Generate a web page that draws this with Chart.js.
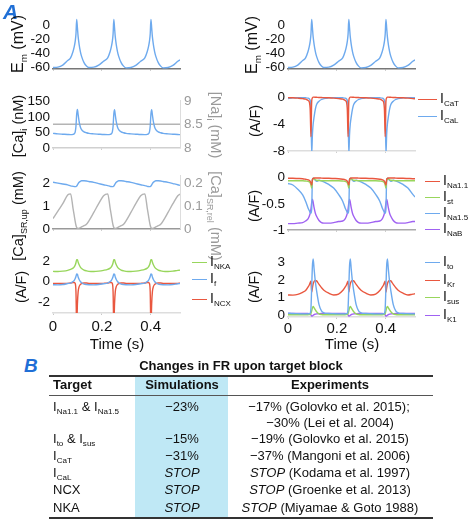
<!DOCTYPE html>
<html>
<head>
<meta charset="utf-8">
<script src="https://cdn.jsdelivr.net/npm/chart.js@4.4.1/dist/chart.umd.min.js"></script>
<style>
  body { margin: 0; background: #fff; }
  #fig { position: relative; width: 474px; height: 524px; overflow: hidden; font-family: Arial, "Liberation Sans", sans-serif; color: #111; }
  #fig canvas { position: absolute; }
  .t { position: absolute; white-space: nowrap; font-size: 13px; line-height: 16px; }
  .c { transform: translateX(-50%); }
  .yl { position: absolute; white-space: nowrap; font-size: 14.5px; line-height: 16px; transform: translate(-50%, -50%) rotate(-90deg); }
  .yr { position: absolute; white-space: nowrap; font-size: 14.5px; line-height: 16px; color: #9a9a9a; transform: translate(-50%, -50%) rotate(90deg); }
  .em { font-size: 16px; }
  .s { font-size: 0.62em; vertical-align: -0.35em; }
  .lg { position: absolute; height: 0; border-top: 1.5px solid; }
  .lt { position: absolute; font-size: 14px; line-height: 16px; transform: translateY(-45%); white-space: nowrap; }
  .lt .s { font-size: 8px; }
  .rule { position: absolute; left: 49px; width: 384px; background: #333; }
</style>
</head>
<body>
<div id="fig"></div>
<script>
// time points (s), denser around each beat
const time = [0, 0.02, 0.04, 0.06,
  0.072, 0.082, 0.087, 0.091, 0.094, 0.097, 0.100, 0.103, 0.107, 0.112, 0.117, 0.127, 0.137, 0.147, 0.167, 0.187, 0.207,
  0.224, 0.234, 0.239, 0.243, 0.246, 0.249, 0.252, 0.255, 0.259, 0.264, 0.269, 0.279, 0.289, 0.299, 0.319, 0.339, 0.359,
  0.376, 0.386, 0.391, 0.395, 0.398, 0.401, 0.404, 0.407, 0.411, 0.416, 0.421, 0.431, 0.441, 0.451, 0.471, 0.491, 0.511,
  0.52];

const em = [-61, -60.5, -57.5, -51,
  -47, -38, -31, -23, -13, 8, -4, -17, -28, -38, -45, -54, -59, -61, -60.5, -57.5, -52,
  -47, -38, -31, -23, -13, 8, -4, -17, -28, -38, -45, -54, -59, -61.5, -61, -58, -52,
  -47, -38, -31, -23, -13, 8, -4, -17, -28, -38, -45, -54, -59, -61.5, -61, -58, -52,
  -50];

const caI = [47, 45.5, 44.5, 43.5,
  43, 44, 46, 52, 70, 110, 125, 108, 85, 68, 59, 52, 49, 47, 45.5, 44.5, 43.5,
  43, 44, 46, 52, 70, 110, 124, 107, 85, 68, 59, 52, 49, 47, 45.5, 44.5, 43.5,
  43, 44, 46, 52, 70, 110, 124, 107, 85, 68, 59, 52, 49, 47, 45.5, 44.5, 43.5,
  43];

const naTime = [0, 0.52];
const naI = [8.51, 8.51];

const caSRup = [2.04, 2.0, 1.96, 1.92,
  1.88, 1.86, 1.85, 1.845, 1.85, 1.87, 1.92, 1.98, 2.04, 2.08, 2.1, 2.1, 2.09, 2.07, 2.03, 1.98, 1.93,
  1.89, 1.86, 1.85, 1.845, 1.85, 1.87, 1.92, 1.98, 2.04, 2.08, 2.1, 2.1, 2.09, 2.07, 2.03, 1.98, 1.93,
  1.89, 1.86, 1.85, 1.845, 1.85, 1.87, 1.92, 1.98, 2.04, 2.08, 2.1, 2.1, 2.09, 2.07, 2.03, 1.98, 1.93,
  1.9];

const caSRrel = [0.045, 0.078, 0.11, 0.148,
  0.153, 0.09, 0.058, 0.032, 0.016, 0.006, 0.003, 0.002, 0.003, 0.006, 0.009, 0.014, 0.02, 0.035, 0.072, 0.11, 0.145,
  0.153, 0.09, 0.058, 0.032, 0.016, 0.006, 0.003, 0.002, 0.003, 0.006, 0.009, 0.014, 0.02, 0.035, 0.072, 0.11, 0.145,
  0.153, 0.09, 0.058, 0.032, 0.016, 0.006, 0.003, 0.002, 0.003, 0.006, 0.009, 0.014, 0.02, 0.035, 0.072, 0.11, 0.145,
  0.152];

const iNKA = [1.0, 0.98, 1.02, 1.1,
  1.2, 1.32, 1.45, 1.62, 1.85, 2.15, 2.15, 1.9, 1.65, 1.42, 1.28, 1.13, 1.05, 1.0, 0.98, 1.02, 1.1,
  1.2, 1.32, 1.45, 1.62, 1.85, 2.15, 2.15, 1.9, 1.65, 1.42, 1.28, 1.13, 1.05, 1.0, 0.98, 1.02, 1.1,
  1.2, 1.32, 1.45, 1.62, 1.85, 2.15, 2.15, 1.9, 1.65, 1.42, 1.28, 1.13, 1.05, 1.0, 0.98, 1.02, 1.1,
  1.12];

const iF = [-0.32, -0.33, -0.3, -0.2,
  -0.15, 0.0, 0.12, 0.3, 0.5, 0.75, 0.7, 0.45, 0.2, 0.0, -0.12, -0.25, -0.3, -0.32, -0.33, -0.3, -0.22,
  -0.15, 0.0, 0.12, 0.3, 0.5, 0.75, 0.7, 0.45, 0.2, 0.0, -0.12, -0.25, -0.3, -0.32, -0.33, -0.3, -0.22,
  -0.15, 0.0, 0.12, 0.3, 0.5, 0.75, 0.7, 0.45, 0.2, 0.0, -0.12, -0.25, -0.3, -0.32, -0.33, -0.3, -0.22,
  -0.2];

const iNCX = [-0.18, -0.2, -0.2, -0.18,
  -0.15, -0.1, -0.1, -0.2, -1.0, -4.5, -2.2, -1.0, -0.5, -0.3, -0.2, -0.15, -0.15, -0.18, -0.2, -0.2, -0.18,
  -0.15, -0.1, -0.1, -0.2, -1.0, -4.5, -2.2, -1.0, -0.5, -0.3, -0.2, -0.15, -0.15, -0.18, -0.2, -0.2, -0.18,
  -0.15, -0.1, -0.1, -0.2, -1.0, -4.5, -2.2, -1.0, -0.5, -0.3, -0.2, -0.15, -0.15, -0.18, -0.2, -0.2, -0.18,
  -0.17];

const iCaT = [-0.08, -0.1, -0.15, -0.22,
  -0.3, -0.5, -0.7, -2.0, -5.9, -0.6, -0.1, 0.0, 0.0, -0.02, -0.03, -0.05, -0.06, -0.08, -0.1, -0.15, -0.22,
  -0.3, -0.5, -0.7, -2.0, -5.9, -0.6, -0.1, 0.0, 0.0, -0.02, -0.03, -0.05, -0.06, -0.08, -0.1, -0.15, -0.22,
  -0.3, -0.5, -0.7, -2.0, -5.9, -0.6, -0.1, 0.0, 0.0, -0.02, -0.03, -0.05, -0.06, -0.08, -0.1, -0.15, -0.22,
  -0.25];

const iCaL = [-0.2, -0.12, -0.08, -0.08,
  -0.1, -0.15, -0.25, -0.5, -1.5, -8.5, -5.5, -4.0, -2.9, -1.8, -1.1, -0.6, -0.35, -0.22, -0.12, -0.08, -0.08,
  -0.1, -0.15, -0.25, -0.5, -1.5, -8.5, -5.5, -4.0, -2.9, -1.8, -1.1, -0.6, -0.35, -0.22, -0.12, -0.08, -0.08,
  -0.1, -0.15, -0.25, -0.5, -1.5, -8.5, -5.5, -4.0, -2.9, -1.8, -1.1, -0.6, -0.35, -0.22, -0.12, -0.08, -0.08,
  -0.09];

const iNa11 = [-0.01, -0.012, -0.016, -0.02,
  -0.03, -0.04, -0.05, -0.07, -0.1, -0.14, -0.04, -0.015, -0.005, -0.005, -0.005, -0.005, -0.008, -0.01, -0.012, -0.016, -0.02,
  -0.03, -0.04, -0.05, -0.07, -0.1, -0.14, -0.04, -0.015, -0.005, -0.005, -0.005, -0.005, -0.008, -0.01, -0.012, -0.016, -0.02,
  -0.03, -0.04, -0.05, -0.07, -0.1, -0.14, -0.04, -0.015, -0.005, -0.005, -0.005, -0.005, -0.008, -0.01, -0.012, -0.016, -0.02,
  -0.022];

const iSt = [-0.06, -0.06, -0.06, -0.06,
  -0.065, -0.07, -0.08, -0.1, -0.14, -0.2, -0.05, -0.01, -0.02, -0.04, -0.05, -0.055, -0.06, -0.06, -0.06, -0.06, -0.06,
  -0.065, -0.07, -0.08, -0.1, -0.14, -0.2, -0.05, -0.01, -0.02, -0.04, -0.05, -0.055, -0.06, -0.06, -0.06, -0.06, -0.06,
  -0.065, -0.07, -0.08, -0.1, -0.14, -0.2, -0.05, -0.01, -0.02, -0.04, -0.05, -0.055, -0.06, -0.06, -0.06, -0.06, -0.06,
  -0.06];

const iNa15 = [-0.11, -0.14, -0.22, -0.33,
  -0.45, -0.58, -0.63, -0.67, -0.68, -0.6, -0.03, -0.01, -0.02, -0.05, -0.07, -0.05, -0.06, -0.08, -0.13, -0.2, -0.32,
  -0.45, -0.58, -0.63, -0.67, -0.68, -0.6, -0.03, -0.01, -0.02, -0.05, -0.07, -0.05, -0.06, -0.08, -0.13, -0.2, -0.32,
  -0.45, -0.58, -0.63, -0.67, -0.68, -0.6, -0.03, -0.01, -0.02, -0.05, -0.07, -0.05, -0.06, -0.08, -0.13, -0.2, -0.32,
  -0.37];

const iNaB = [-0.88, -0.88, -0.87, -0.86,
  -0.83, -0.79, -0.74, -0.68, -0.6, -0.48, -0.41, -0.47, -0.58, -0.68, -0.74, -0.82, -0.86, -0.87, -0.87, -0.86, -0.84,
  -0.83, -0.79, -0.74, -0.68, -0.6, -0.48, -0.41, -0.47, -0.58, -0.68, -0.74, -0.82, -0.86, -0.87, -0.87, -0.86, -0.84,
  -0.83, -0.79, -0.74, -0.68, -0.6, -0.48, -0.41, -0.47, -0.58, -0.68, -0.74, -0.82, -0.86, -0.87, -0.87, -0.86, -0.84,
  -0.84];

const iTo = [0.12, 0.1, 0.09, 0.08,
  0.08, 0.08, 0.09, 0.12, 0.4, 1.6, 2.8, 3.2, 2.6, 1.9, 1.4, 0.6, 0.25, 0.14, 0.1, 0.09, 0.08,
  0.08, 0.08, 0.09, 0.12, 0.4, 1.6, 2.8, 3.2, 2.6, 1.9, 1.4, 0.6, 0.25, 0.14, 0.1, 0.09, 0.08,
  0.08, 0.08, 0.09, 0.12, 0.4, 1.6, 2.8, 3.2, 2.6, 1.9, 1.4, 0.6, 0.25, 0.14, 0.1, 0.09, 0.08,
  0.08];

const iKr = [1.15, 1.14, 1.18, 1.3,
  1.4, 1.6, 1.72, 1.85, 1.93, 1.3, 1.55, 1.78, 1.92, 1.98, 1.95, 1.75, 1.57, 1.42, 1.25, 1.15, 1.2,
  1.4, 1.6, 1.72, 1.85, 1.93, 1.3, 1.55, 1.78, 1.92, 1.98, 1.95, 1.75, 1.57, 1.42, 1.25, 1.15, 1.2,
  1.4, 1.6, 1.72, 1.85, 1.93, 1.3, 1.55, 1.78, 1.92, 1.98, 1.95, 1.75, 1.57, 1.42, 1.25, 1.15, 1.2,
  1.22];

const iSus = [0.03, 0.03, 0.03, 0.03,
  0.03, 0.03, 0.04, 0.05, 0.1, 0.25, 0.42, 0.5, 0.42, 0.3, 0.2, 0.08, 0.04, 0.03, 0.03, 0.03, 0.03,
  0.03, 0.03, 0.04, 0.05, 0.1, 0.25, 0.42, 0.5, 0.42, 0.3, 0.2, 0.08, 0.04, 0.03, 0.03, 0.03, 0.03,
  0.03, 0.03, 0.04, 0.05, 0.1, 0.25, 0.42, 0.5, 0.42, 0.3, 0.2, 0.08, 0.04, 0.03, 0.03, 0.03, 0.03,
  0.03];

const iK1 = [0.1, 0.1, 0.1, 0.1,
  0.1, 0.1, 0.09, 0.08, 0.02, -0.05, -0.04, 0.0, 0.04, 0.06, 0.08, 0.09, 0.1, 0.1, 0.1, 0.1, 0.1,
  0.1, 0.1, 0.09, 0.08, 0.02, -0.05, -0.04, 0.0, 0.04, 0.06, 0.08, 0.09, 0.1, 0.1, 0.1, 0.1, 0.1,
  0.1, 0.1, 0.09, 0.08, 0.02, -0.05, -0.04, 0.0, 0.04, 0.06, 0.08, 0.09, 0.1, 0.1, 0.1, 0.1, 0.1,
  0.1];

// tick labels
const timeTicks = [0, 0.2, 0.4];
const emTicks = [0, -20, -40, -60];
const caTicks = [0, 50, 100, 150];
const naTicks = [8, 8.5, 9];
const srUpTicks = [0, 1, 2];
const srRelTicks = [0, 0.1, 0.2];
const leftCurTicks = [-2, 0, 2];
const caCurTicks = [-8, -4, 0];
const naCurTicks = [-1, -0.5, 0];
const kCurTicks = [0, 1, 2, 3];

const BLUE = '#6eaaee', RED = '#e9573f', GREEN = '#98d65c', PURPLE = '#a062f2', GRAY = '#b4b4b4';
const FONT = 'Arial, "Liberation Sans", sans-serif';
const T_MAX = 0.52;
const PW = 127;
const PAD_L = 50, PAD_T = 10;

const fig = document.getElementById('fig');

function pts(ys, xs) {
  return ys.map((y, i) => ({ x: (xs || time)[i], y: y }));
}

function line(ys, color, axis, xs) {
  return {
    data: pts(ys, xs),
    borderColor: color,
    borderWidth: 1.4,
    pointRadius: 0,
    fill: false,
    cubicInterpolationMode: 'monotone',
    yAxisID: axis || 'y'
  };
}

function fmt(v) {
  return String(Math.round(v * 100) / 100);
}

function panel(p) {
  const plotH = p.bottom - p.top;
  const padR = p.y2 ? 40 : 6;
  const padB = p.xLabels ? 30 : 6;
  const cv = document.createElement('canvas');
  cv.width = PAD_L + PW + padR;
  cv.height = PAD_T + plotH + padB;
  cv.style.left = (p.left - PAD_L) + 'px';
  cv.style.top = (p.top - PAD_T) + 'px';
  fig.appendChild(cv);

  const scales = {
    x: {
      type: 'linear', min: 0, max: T_MAX,
      afterBuildTicks: s => { s.ticks = timeTicks.map(v => ({ value: v })); },
      afterFit: s => { s.height = padB; },
      border: { display: true, color: p.axisColor, width: 1.5 },
      grid: { display: true, drawOnChartArea: false, tickLength: 2, color: '#c8c8c8' },
      ticks: { display: !!p.xLabels, autoSkip: false, font: { size: 15, family: FONT }, color: '#111', padding: p.xPad || 3, maxRotation: 0, callback: v => fmt(v) }
    },
    y: {
      position: 'left', min: p.y.min, max: p.y.max,
      afterBuildTicks: s => { s.ticks = p.y.ticks.map(v => ({ value: v })); },
      afterFit: s => { s.width = PAD_L; },
      border: { display: false },
      grid: { display: false, drawTicks: false },
      ticks: { autoSkip: false, font: { size: 13.5, family: FONT }, color: '#111', padding: 3, callback: v => fmt(v) }
    }
  };
  if (p.y2) {
    scales.y2 = {
      position: 'right', min: p.y2.min, max: p.y2.max,
      afterBuildTicks: s => { s.ticks = p.y2.ticks.map(v => ({ value: v })); },
      afterFit: s => { s.width = padR; },
      border: { display: true, color: '#dddddd', width: 1 },
      grid: { display: false, drawTicks: false },
      ticks: { autoSkip: false, font: { size: 13.5, family: FONT }, color: '#9a9a9a', padding: 4, callback: v => fmt(v) }
    };
  }

  return new Chart(cv.getContext('2d'), {
    type: 'line',
    data: { datasets: p.datasets },
    options: {
      responsive: false,
      animation: false,
      events: [],
      layout: { padding: { left: 0, top: PAD_T, right: p.y2 ? 0 : padR, bottom: 0 } },
      plugins: { legend: { display: false }, tooltip: { enabled: false } },
      scales: scales
    }
  });
}

const L = 53, R = 288;

// left column
panel({ left: L, top: 14.9, bottom: 74, axisColor: '#777',
  y: { min: -63, max: 13, ticks: emTicks },
  datasets: [line(em, BLUE)] });

panel({ left: L, top: 97.5, bottom: 154, axisColor: '#d0d0d0',
  y: { min: 0, max: 155, ticks: caTicks },
  y2: { min: 8, max: 8 + 155 / 150, ticks: naTicks },
  datasets: [line(caI, BLUE), line(naI, GRAY, 'y2', naTime)] });

panel({ left: L, top: 172.7, bottom: 235, axisColor: '#999',
  y: { min: 0, max: 2.35, ticks: srUpTicks },
  y2: { min: 0, max: 0.235, ticks: srRelTicks },
  datasets: [line(caSRup, BLUE), line(caSRrel, GRAY, 'y2')] });

panel({ left: L, top: 253.7, bottom: 313.6, axisColor: '#dddddd', xLabels: true,
  y: { min: -3.1, max: 2.6, ticks: leftCurTicks },
  datasets: [line(iNKA, GREEN), line(iF, BLUE), line(iNCX, RED)] });

// right column
panel({ left: R, top: 14.9, bottom: 74, axisColor: '#777',
  y: { min: -63, max: 13, ticks: emTicks },
  datasets: [line(em, BLUE)] });

panel({ left: R, top: 93.5, bottom: 155.7, axisColor: '#dddddd',
  y: { min: -8, max: 0.3, ticks: caCurTicks },
  datasets: [line(iCaT, RED), line(iCaL, BLUE)] });

panel({ left: R, top: 174.9, bottom: 235.7, axisColor: '#aaaaaa',
  y: { min: -1, max: 0.03, ticks: naCurTicks },
  datasets: [line(iNa11, RED), line(iSt, GREEN), line(iNa15, BLUE), line(iNaB, PURPLE)] });

panel({ left: R, top: 255.6, bottom: 316.8, axisColor: '#dddddd', xLabels: true, xPad: 1,
  y: { min: -0.1, max: 3.3, ticks: kCurTicks },
  datasets: [line(iTo, BLUE), line(iKr, RED), line(iSus, GREEN), line(iK1, PURPLE)] });

// text overlays
function add(html, cls, x, y, style) {
  const d = document.createElement('div');
  d.className = cls;
  d.style.left = x + 'px';
  d.style.top = y + 'px';
  if (style) d.style.cssText += style;
  d.innerHTML = html;
  fig.appendChild(d);
  return d;
}

add('A', 't', 3, 0, 'font-size:21px;line-height:24px;font-weight:bold;font-style:italic;color:#1f6fd6;');
add('B', 't', 24, 355, 'font-size:19px;line-height:22px;font-weight:bold;font-style:italic;color:#1f6fd6;');

// axis titles
add('E<span class="s">m</span> (mV)', 'yl em', 21, 44);
add('[Ca]<span class="s">i</span> (nM)', 'yl', 21, 126);
add('[Na]<span class="s">i</span> (mM)', 'yr', 213, 125);
add('[Ca]<span class="s">SR,up</span> (mM)', 'yl', 21, 216);
add('[Ca]<span class="s">SR,rel</span> (mM)', 'yr', 213, 216);
add('(A/F)', 'yl', 21, 287);
add('E<span class="s">m</span> (mV)', 'yl em', 255, 45);
add('(A/F)', 'yl', 255, 121);
add('(A/F)', 'yl', 254, 206);
add('(A/F)', 'yl', 254, 287);
add('Time (s)', 't c', 117, 335, 'font-size:15px;line-height:17px;');
add('Time (s)', 't c', 352, 335, 'font-size:15px;line-height:17px;');

// legends
function legend(x1, x2, tx, y, color, sub) {
  const ln = document.createElement('div');
  ln.className = 'lg';
  ln.style.left = x1 + 'px';
  ln.style.top = (y - 0.75) + 'px';
  ln.style.width = (x2 - x1) + 'px';
  ln.style.borderTopColor = color;
  fig.appendChild(ln);
  add('I<span class="s">' + sub + '</span>', 'lt', tx, y);
}
legend(192, 207, 210, 263, GREEN, 'NKA');
legend(192, 207, 210, 280, BLUE, 'f');
legend(192, 207, 210, 300, RED, 'NCX');
legend(418, 437, 440, 100, RED, 'CaT');
legend(418, 437, 440, 117, BLUE, 'CaL');
legend(425, 440, 443, 182, RED, 'Na1.1');
legend(425, 440, 443, 198, GREEN, 'st');
legend(425, 440, 443, 214, BLUE, 'Na1.5');
legend(425, 440, 443, 230, PURPLE, 'NaB');
legend(425, 440, 443, 263, BLUE, 'to');
legend(425, 440, 443, 281, RED, 'Kr');
legend(425, 440, 443, 298, GREEN, 'sus');
legend(425, 440, 443, 316, PURPLE, 'K1');

// table (panel B)
const band = document.createElement('div');
band.style.cssText = 'position:absolute;left:135px;top:376px;width:93px;height:142px;background:#bfe8f5;';
fig.appendChild(band);
const r1 = document.createElement('div'); r1.className = 'rule'; r1.style.cssText += 'top:375px;height:1.5px;'; fig.appendChild(r1);
const r2 = document.createElement('div'); r2.className = 'rule'; r2.style.cssText += 'top:395px;height:1px;background:#555;'; fig.appendChild(r2);
const r3 = document.createElement('div'); r3.className = 'rule'; r3.style.cssText += 'top:517px;height:1.5px;'; fig.appendChild(r3);

add('Changes in FR upon target block', 't c', 241, 358, 'font-weight:bold;');
add('Target', 't', 53, 377, 'font-weight:bold;');
add('Simulations', 't c', 182, 377, 'font-weight:bold;');
add('Experiments', 't c', 330, 377, 'font-weight:bold;');

const rowY = [399, 415, 431, 448, 465, 482, 500];
add('I<span class="s">Na1.1</span> &amp; I<span class="s">Na1.5</span>', 't', 53, rowY[0]);
add('\u221223%', 't c', 182, rowY[0]);
add('\u221217% (Golovko et al. 2015);', 't c', 329, rowY[0]);
add('\u221230% (Lei et al. 2004)', 't c', 330, rowY[1]);
add('I<span class="s">to</span> &amp; I<span class="s">sus</span>', 't', 53, rowY[2]);
add('\u221215%', 't c', 182, rowY[2]);
add('\u221219% (Golovko et al. 2015)', 't c', 330, rowY[2]);
add('I<span class="s">CaT</span>', 't', 53, rowY[3]);
add('\u221231%', 't c', 182, rowY[3]);
add('\u221237% (Mangoni et al. 2006)', 't c', 330, rowY[3]);
add('I<span class="s">CaL</span>', 't', 53, rowY[4]);
add('<i>STOP</i>', 't c', 182, rowY[4]);
add('<i>STOP</i> (Kodama et al. 1997)', 't c', 330, rowY[4]);
add('NCX', 't', 53, rowY[5]);
add('<i>STOP</i>', 't c', 182, rowY[5]);
add('<i>STOP</i> (Groenke et al. 2013)', 't c', 330, rowY[5]);
add('NKA', 't', 53, rowY[6]);
add('<i>STOP</i>', 't c', 182, rowY[6]);
add('<i>STOP</i> (Miyamae &amp; Goto 1988)', 't c', 330, rowY[6]);
</script>
</body>
</html>
